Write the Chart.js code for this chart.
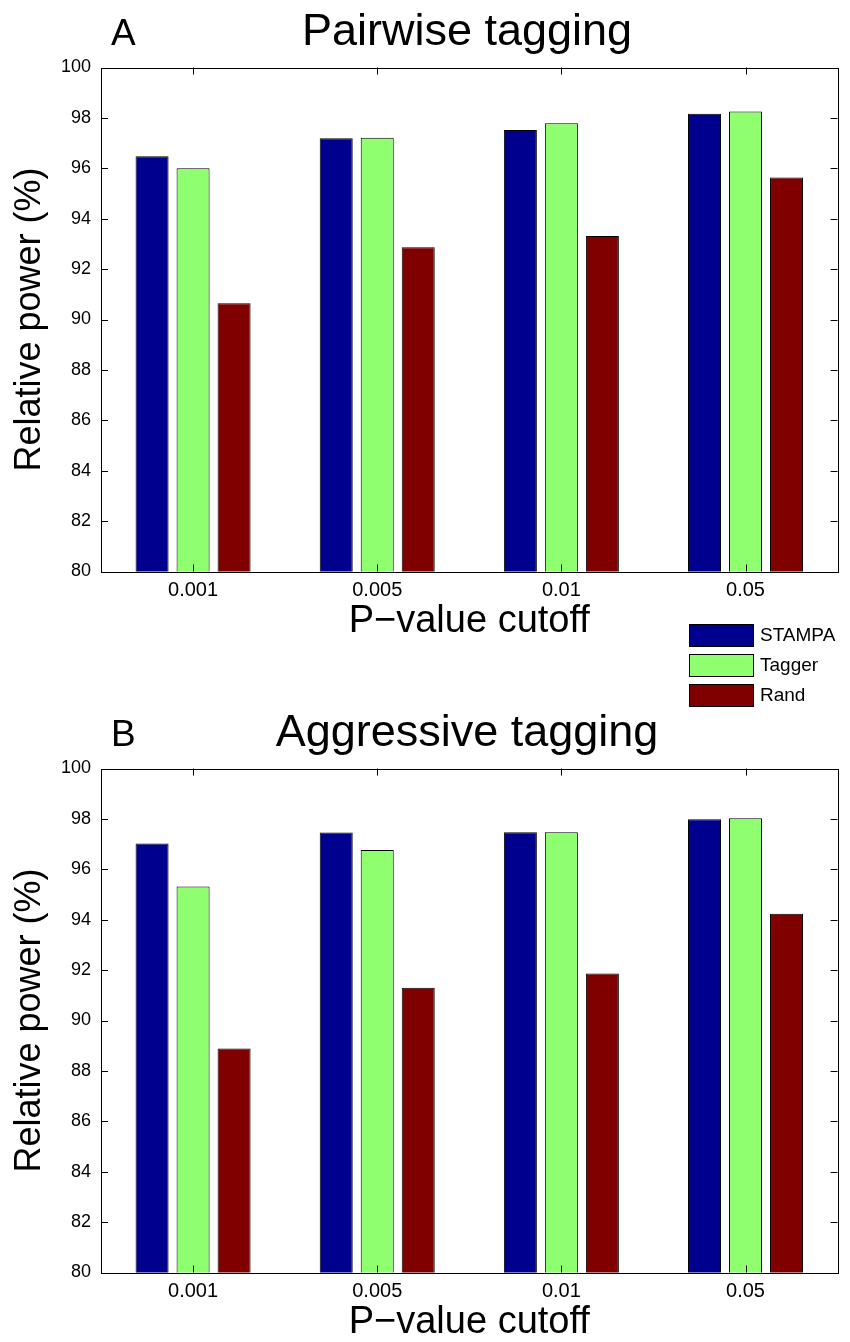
<!DOCTYPE html>
<html>
<head>
<meta charset="utf-8">
<script src="https://cdn.jsdelivr.net/npm/chart.js@4/dist/chart.umd.min.js"></script>
<style>
    html, body { margin: 0; padding: 0; background: #fff; overflow: hidden; }
    canvas { position: absolute; left: 0; }
    #pairwiseChart { top: 0; }
    #aggressiveChart { top: 701px; }
</style>
</head>
<body>
<canvas id="pairwiseChart" width="850" height="710"></canvas>
<canvas id="aggressiveChart" width="850" height="641"></canvas>
<script>
var CUTOFF_LABELS = ['0.001', '0.005', '0.01', '0.05'];
var SERIES_NAMES = ['STAMPA', 'Tagger', 'Rand'];
var PAIRWISE_STAMPA = [96.48, 97.19, 97.52, 98.16];
var PAIRWISE_TAGGER = [96.00, 97.21, 97.79, 98.25];
var PAIRWISE_RAND = [90.64, 92.87, 93.31, 95.63];
var AGGRESSIVE_STAMPA = [97.02, 97.46, 97.47, 97.99];
var AGGRESSIVE_TAGGER = [95.32, 96.77, 97.47, 98.03];
var AGGRESSIVE_RAND = [88.89, 91.30, 91.87, 94.24];
var COLOR_ARRAY = [
    'rgb(0, 0, 143)',    //STAMPA
    'rgb(143, 255, 112)', //Tagger
    'rgb(128, 0, 0)'     //Rand
];
var FONT = '"Liberation Sans", Arial, Helvetica, sans-serif';

// MATLAB style box + inward tick marks, panel letter, title, optional legend
var matlabFrame = {
    id: 'matlabFrame',
    afterDraw(chart, args, opts) {
        var ctx = chart.ctx;
        var area = chart.chartArea;
        var xs = chart.scales.x, ys = chart.scales.y;
        ctx.save();
        ctx.strokeStyle = '#000';
        ctx.lineWidth = 1;
        ctx.strokeRect(Math.round(area.left) + 0.5, Math.round(area.top) + 0.5,
            Math.round(area.right - area.left), Math.round(area.bottom - area.top));
        ctx.beginPath();
        xs.ticks.forEach((t, i) => {
            var px = Math.round(xs.getPixelForTick(i)) + 0.5;
            ctx.moveTo(px, area.bottom); ctx.lineTo(px, area.bottom - 7);
            ctx.moveTo(px, area.top); ctx.lineTo(px, area.top + 7);
        });
        ys.ticks.forEach((t, i) => {
            var py = Math.round(ys.getPixelForTick(i)) + 0.5;
            ctx.moveTo(area.left, py); ctx.lineTo(area.left + 7, py);
            ctx.moveTo(area.right, py); ctx.lineTo(area.right - 7, py);
        });
        ctx.stroke();

        ctx.fillStyle = '#000';
        ctx.textBaseline = 'alphabetic';
        ctx.font = '37px ' + FONT;
        ctx.textAlign = 'left';
        ctx.fillText(opts.letter, 111, 45);
        ctx.font = '45px ' + FONT;
        ctx.textAlign = 'center';
        ctx.fillText(opts.title, 467, 45);

        if (opts.legend) {
            ctx.font = '19px ' + FONT;
            ctx.textAlign = 'left';
            ctx.textBaseline = 'middle';
            chart.data.datasets.forEach((ds, i) => {
                var y = 624 + i * 30;
                ctx.fillStyle = ds.backgroundColor;
                ctx.fillRect(689, y, 64, 22);
                ctx.strokeStyle = '#000';
                ctx.strokeRect(689.5, y + 0.5, 64, 22);
                ctx.fillStyle = '#000';
                ctx.fillText(ds.label, 760, y + 12);
            });
        }
        ctx.restore();
    }
};

function makeChart(canvasID, seriesList, letter, title, showLegend, bottomPad) {
    return new Chart(document.getElementById(canvasID), {
        type: 'bar',
        data: {
            labels: CUTOFF_LABELS,
            datasets: seriesList.map((values, i) => ({
                label: SERIES_NAMES[i],
                data: values,
                backgroundColor: COLOR_ARRAY[i],
                borderColor: '#000',
                borderWidth: 1,
                borderSkipped: false,
                categoryPercentage: 0.668,
                barPercentage: 0.805
            }))
        },
        options: {
            responsive: false,
            animation: false,
            devicePixelRatio: 1,
            layout: {
                padding: { top: 67.5, left: 0, right: 12.4, bottom: bottomPad }
            },
            scales: {
                x: {
                    grid: { display: false, drawTicks: false },
                    border: { display: false },
                    ticks: { color: '#000', padding: 7, font: { family: FONT, size: 20 } },
                    title: {
                        display: true,
                        text: 'P\u2212value cutoff',
                        color: '#000',
                        padding: 0,
                        font: { family: FONT, size: 38, lineHeight: 1.0 }
                    },
                    afterFit: scale => { scale.height = 69; }
                },
                y: {
                    min: 80,
                    max: 100,
                    grid: { display: false, drawTicks: false },
                    border: { display: false },
                    ticks: { stepSize: 2, color: '#000', padding: 10, font: { family: FONT, size: 18 } },
                    title: {
                        display: true,
                        text: 'Relative power (%)',
                        color: '#000',
                        padding: { top: 8, bottom: 0 },
                        font: { family: FONT, size: 36, lineHeight: 1.2 }
                    },
                    afterFit: scale => { scale.width = 101; }
                }
            },
            plugins: {
                legend: { display: false },
                title: { display: false },
                tooltip: { enabled: false },
                matlabFrame: { letter: letter, title: title, legend: showLegend }
            }
        },
        plugins: [matlabFrame]
    });
}

makeChart('pairwiseChart', [PAIRWISE_STAMPA, PAIRWISE_TAGGER, PAIRWISE_RAND], 'A', 'Pairwise tagging', true, 69.5);
makeChart('aggressiveChart', [AGGRESSIVE_STAMPA, AGGRESSIVE_TAGGER, AGGRESSIVE_RAND], 'B', 'Aggressive tagging', false, 0.5);
</script>
</body>
</html>
